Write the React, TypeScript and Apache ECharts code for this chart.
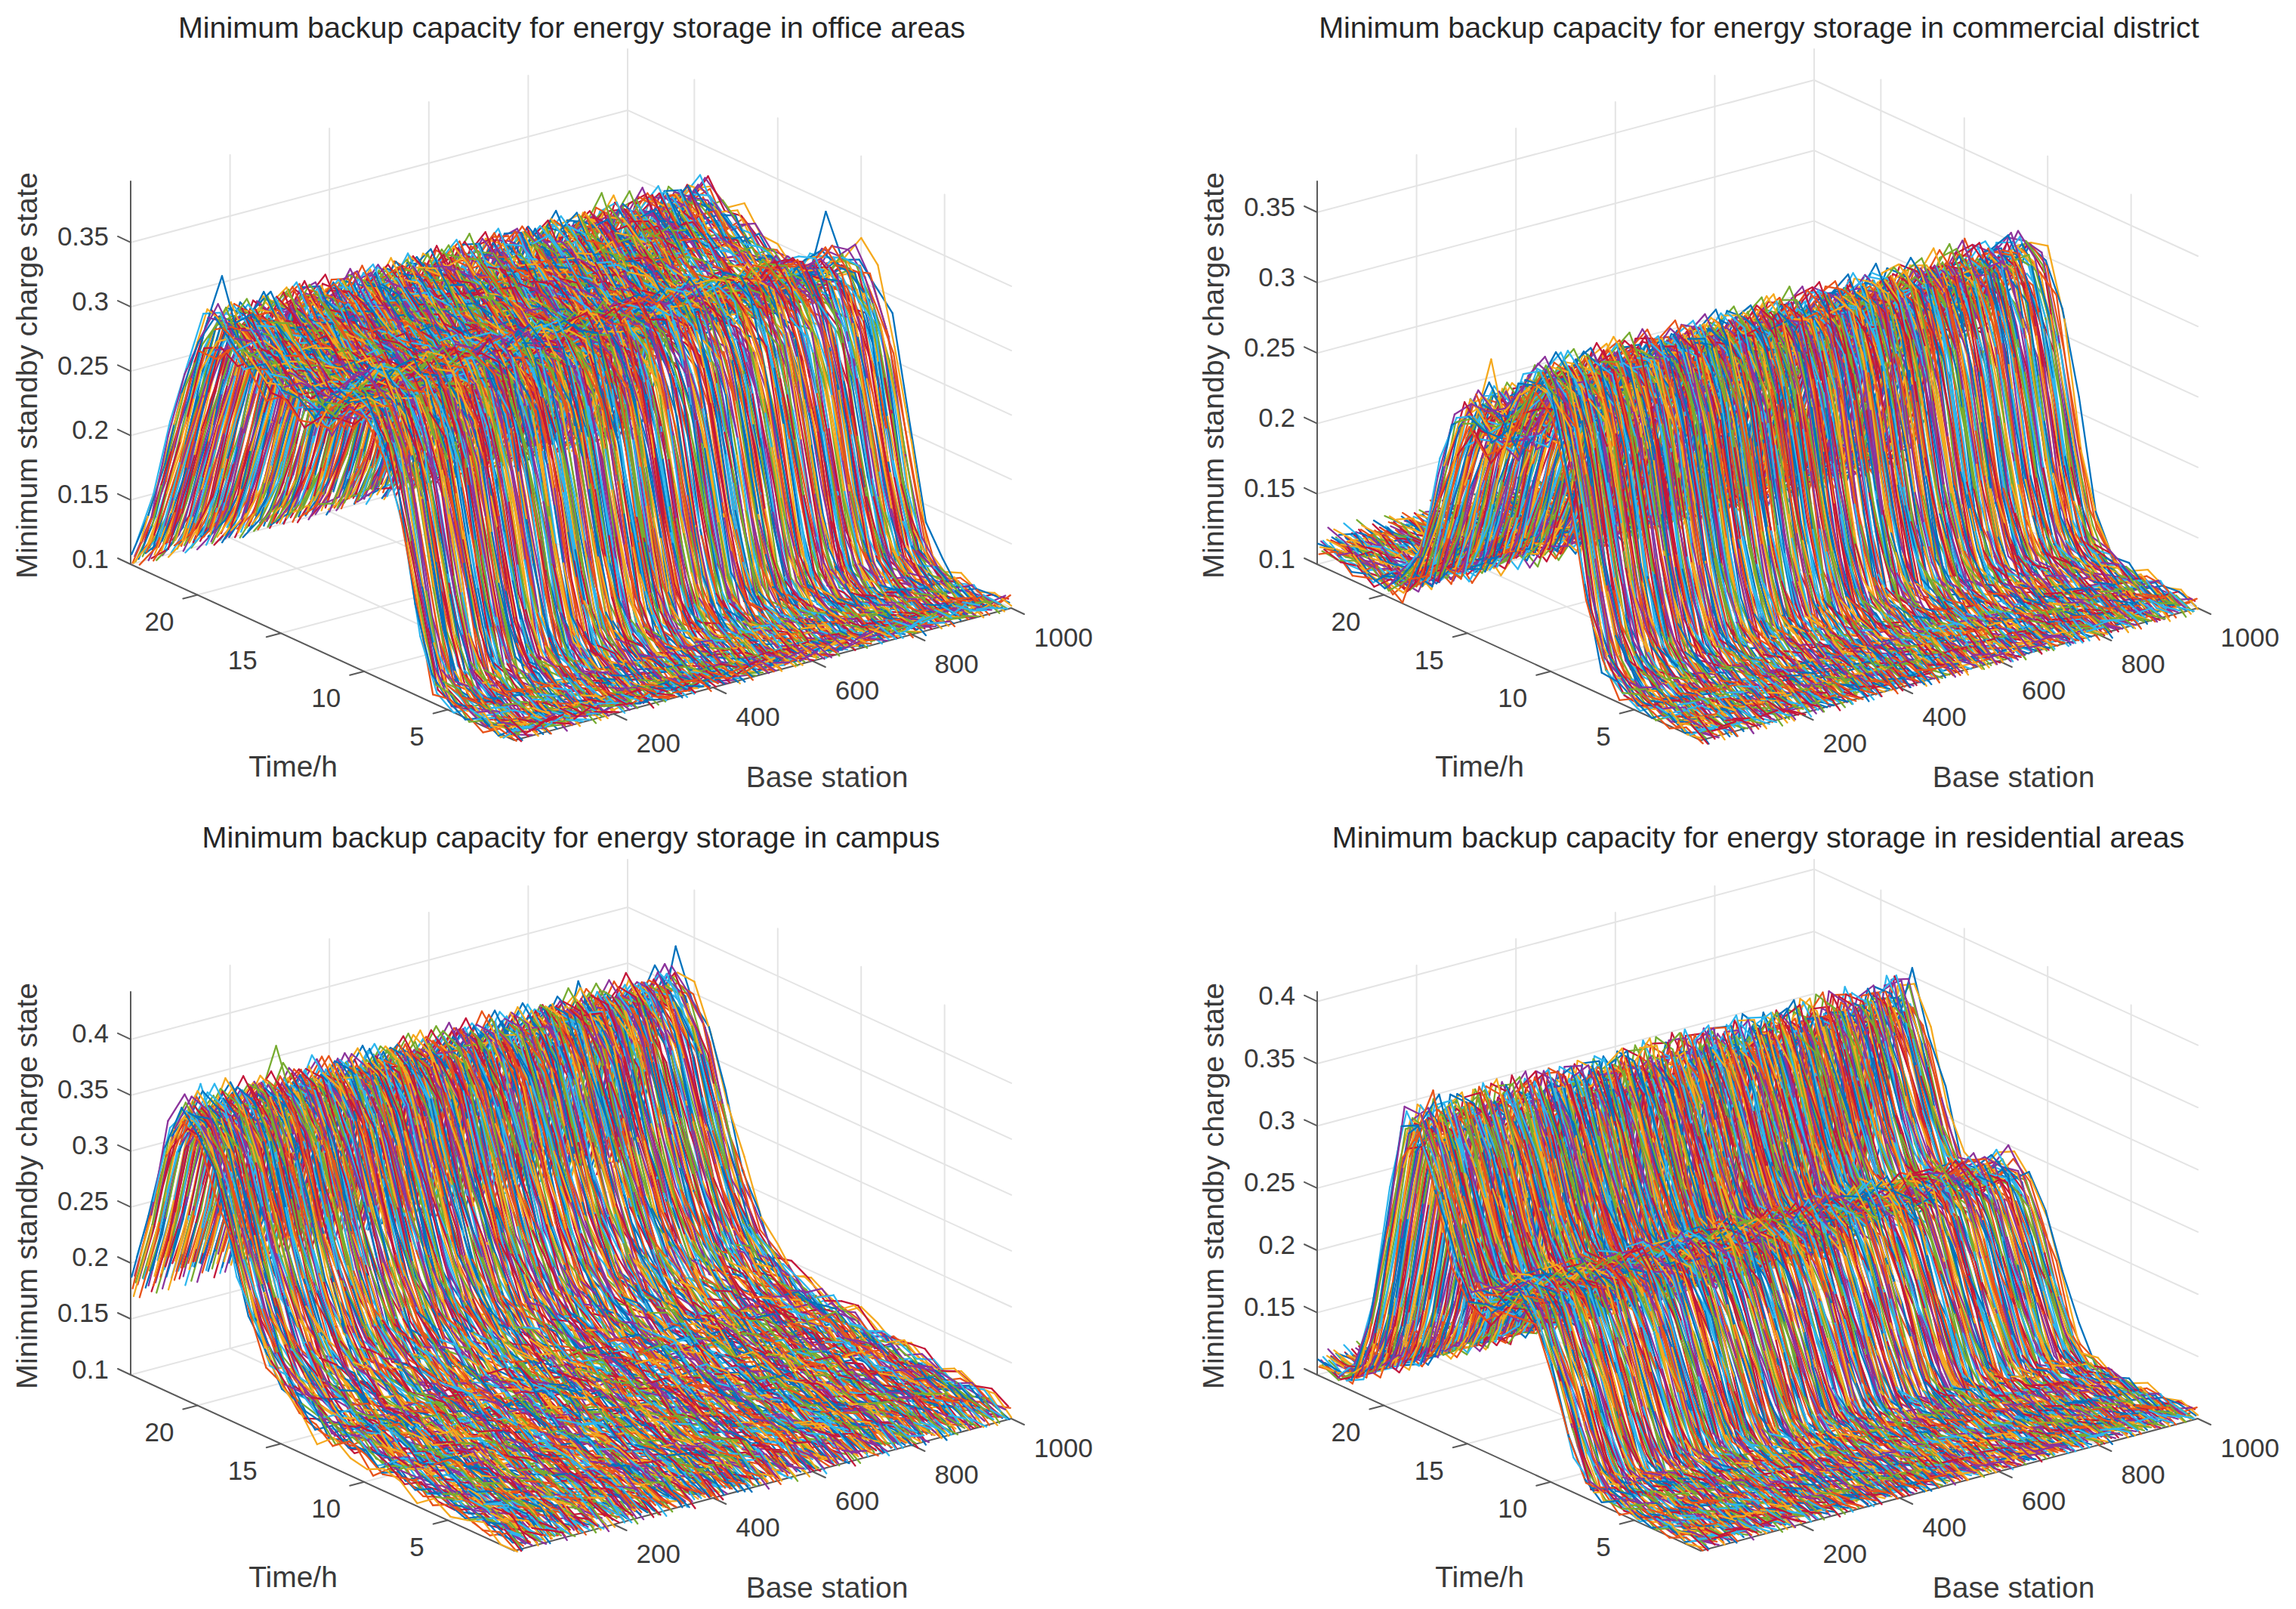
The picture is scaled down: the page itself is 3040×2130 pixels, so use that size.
import React, { useEffect, useRef } from "react";
import * as echarts from "echarts";

// ---------- values ----------
const hours = [1, 2, 3, 4, 5, 6, 7, 8, 9, 10, 11, 12, 13, 14, 15, 16, 17, 18, 19, 20, 21, 22, 23, 24];
const hourTicks = [5, 10, 15, 20];
const stationTicks = [200, 400, 600, 800, 1000];

// Typical state-of-charge profiles (thousandths) per hour, five kinds of station per scene.
const officeProfiles = [
  [105, 100, 100, 102, 105, 115, 175, 250, 295, 310, 305, 295, 285, 285, 290, 295, 300, 305, 315, 300, 250, 195, 140, 105],
  [106, 101, 101, 103, 110, 140, 215, 280, 305, 315, 305, 292, 282, 283, 288, 293, 298, 302, 306, 272, 215, 160, 120, 103],
  [104, 100, 100, 101, 103, 107, 140, 215, 275, 300, 305, 298, 290, 288, 292, 298, 305, 312, 320, 312, 275, 220, 160, 112],
  [103, 100, 99, 101, 104, 112, 165, 235, 278, 292, 290, 282, 272, 272, 277, 282, 288, 292, 298, 285, 238, 180, 130, 102],
  [107, 102, 102, 103, 107, 120, 190, 268, 315, 325, 318, 306, 295, 293, 297, 303, 309, 314, 322, 308, 262, 205, 148, 108],
];
const commercialProfiles = [
  [102, 102, 103, 103, 105, 108, 120, 170, 250, 292, 300, 285, 255, 245, 255, 235, 185, 135, 112, 108, 108, 110, 112, 112],
  [103, 103, 103, 104, 106, 112, 140, 205, 272, 296, 298, 278, 248, 248, 262, 218, 162, 120, 110, 107, 109, 111, 113, 114],
  [102, 102, 102, 103, 104, 106, 112, 145, 225, 282, 302, 292, 265, 245, 248, 250, 205, 155, 120, 110, 107, 108, 110, 112],
  [101, 101, 102, 102, 104, 107, 117, 160, 235, 276, 285, 270, 240, 232, 240, 222, 175, 128, 108, 105, 105, 106, 108, 108],
  [104, 104, 105, 105, 107, 110, 124, 180, 258, 300, 310, 296, 266, 256, 268, 248, 195, 142, 116, 112, 112, 114, 117, 118],
];
const campusProfiles = [
  [105, 110, 112, 112, 113, 115, 118, 120, 122, 124, 126, 128, 132, 140, 150, 170, 205, 255, 310, 345, 358, 322, 245, 185],
  [101, 103, 104, 105, 106, 107, 108, 110, 112, 113, 115, 118, 122, 130, 145, 175, 220, 275, 325, 350, 352, 305, 228, 172],
  [108, 116, 120, 120, 121, 123, 126, 128, 130, 133, 135, 138, 141, 147, 155, 165, 192, 238, 295, 338, 360, 332, 262, 200],
  [103, 107, 109, 109, 110, 112, 114, 116, 118, 120, 122, 124, 128, 135, 147, 168, 200, 248, 300, 332, 345, 312, 240, 178],
  [106, 112, 115, 116, 117, 119, 122, 125, 127, 130, 132, 134, 138, 146, 158, 180, 215, 268, 322, 356, 368, 335, 255, 190],
];
const residentialProfiles = [
  [105, 103, 103, 103, 104, 104, 106, 112, 150, 190, 225, 235, 225, 215, 215, 250, 295, 335, 325, 240, 155, 112, 105, 110],
  [104, 103, 103, 103, 104, 105, 109, 128, 172, 210, 232, 233, 220, 212, 222, 268, 315, 338, 300, 205, 130, 108, 105, 109],
  [105, 104, 103, 103, 103, 104, 105, 106, 132, 172, 215, 236, 230, 218, 212, 235, 280, 328, 338, 270, 180, 120, 106, 110],
  [103, 102, 102, 102, 103, 103, 105, 110, 145, 180, 214, 224, 215, 206, 206, 240, 284, 322, 312, 230, 148, 108, 103, 107],
  [107, 105, 105, 105, 106, 106, 108, 115, 156, 198, 235, 246, 235, 225, 226, 260, 308, 348, 338, 250, 162, 116, 108, 113],
];

// Hour-to-hour jitter rows (thousandths) as seen on the ridge and floor.
const jitterRows = [
  [3, -2, 4, -3, 1, 5, -4, 2, -6, 4, -2, 7, -5, 3, -1, 6, -4, 2, 5, -3, 1, -4, 3, 2],
  [-4, 3, -1, 5, -2, -3, 4, -5, 3, 7, -4, 1, 5, -6, 2, -2, 8, -3, -1, 4, -5, 2, -2, 1],
  [1, 5, -3, -2, 6, -1, 2, 4, -3, -5, 8, -2, 3, 4, -7, 5, -1, -4, 9, -2, 3, 1, -3, -1],
  [-2, -4, 6, 1, -3, 4, -6, 3, 5, -2, -1, 6, -8, 4, 3, -4, 2, 7, -3, 1, -2, 5, 2, -2],
  [5, 1, -2, 4, -5, 2, 3, -4, 1, 6, -7, 3, 2, -3, 8, -5, 1, 3, -4, 6, -3, -1, 4, 3],
  [-1, 3, 2, -5, 4, -2, -3, 6, -2, 2, 5, -8, 4, 1, -3, 7, -6, 2, 2, -5, 4, 2, -4, -3],
  [2, -5, 1, 3, -2, 6, -1, -3, 7, -4, 3, 2, -6, 9, -2, -1, 4, -5, 6, 2, -3, 4, 1, 2],
  [-3, 2, -4, 1, 3, -5, 6, 1, -4, 3, 6, -5, 2, -1, 5, -6, 3, 9, -7, 3, 1, -3, 5, -1],
  [4, -1, 3, -4, 2, 1, -6, 5, 2, -7, 4, 3, -2, 6, -4, 2, 5, -6, 3, -1, 5, -2, -4, 4],
  [-5, 4, -2, 2, -1, 3, 5, -6, 4, 1, -3, 8, -1, -5, 6, 3, -7, 4, -2, 5, -4, 3, 1, -2],
  [2, 1, -4, 5, -3, -2, 3, 2, -5, 8, -2, -4, 7, 1, -3, 4, 2, -8, 6, -3, 2, -1, 3, 3],
  [-2, -3, 5, -1, 4, 2, -5, 7, -1, -3, 5, 1, -4, 3, 2, -7, 9, 1, -5, 4, -1, -3, 2, 5],
  [3, 4, -3, 2, -4, 5, 1, -2, -4, 6, 2, -6, 3, 5, -5, 1, 4, -3, 7, -6, 2, 4, -5, -2],
  [-1, -2, 2, 4, 1, -4, 4, -7, 6, 3, -5, 4, -3, 7, 1, -4, -2, 6, -3, 2, 6, -5, 1, 1],
  [1, 3, -5, -2, 3, 4, -2, 3, 4, -8, 6, 2, -1, -4, 5, 3, -5, 2, 4, -7, 3, 2, -2, -4],
  [-3, 5, 1, -4, -1, 2, 6, -4, -3, 5, 3, -4, 8, -2, -6, 5, 1, 3, -8, 5, -2, -4, 4, 2],
  [4, -4, 2, 3, -5, -1, 3, 5, -7, 2, 4, 6, -5, 1, 4, -3, 6, -9, 3, 4, -4, 1, -1, 3],
];
const jitterGain = [1.3, 1.2, 1.2, 1.05];
const profileOrder = [0, 3, 1, 4, 0, 2, 3, 0, 1, 2, 4, 0, 3, 2, 1, 0, 4, 3, 0, 2, 1, 4, 3];
const jitterOrder = [0, 7, 3, 12, 5, 16, 1, 9, 14, 4, 11, 2, 8, 15, 6, 13, 10, 3, 16, 0, 12, 7, 5, 9, 2, 14, 11, 6, 1];

// Stand-out peaks: [scene, station, hour, value in thousandths]
const peaks = [
  [0, 996, 12, 343], [0, 16, 19, 352], [0, 780, 19, 338], [0, 340, 18, 332],
  [1, 48, 15, 290], [1, 700, 13, 296], [1, 900, 12, 312], [1, 960, 11, 316],
  [2, 192, 21, 392], [2, 996, 21, 386], [2, 40, 21, 376], [2, 800, 21, 378], [2, 600, 20, 372],
  [3, 996, 18, 358], [3, 32, 18, 362], [3, 960, 18, 350], [3, 420, 18, 347], [3, 8, 16, 272],
];

const sceneProfiles = [officeProfiles, commercialProfiles, campusProfiles, residentialProfiles];
const sceneTitles = [
  "Minimum backup capacity for energy storage in office areas",
  "Minimum backup capacity for energy storage in commercial district",
  "Minimum backup capacity for energy storage in campus",
  "Minimum backup capacity for energy storage in residential areas",
];
const sceneValueTicks = [
  [0.1, 0.15, 0.2, 0.25, 0.3, 0.35],
  [0.1, 0.15, 0.2, 0.25, 0.3, 0.35],
  [0.1, 0.15, 0.2, 0.25, 0.3, 0.35, 0.4],
  [0.1, 0.15, 0.2, 0.25, 0.3, 0.35, 0.4],
];
const sceneValueTop = [0.3975, 0.372, 0.4425, 0.4077];
const lineColors = ["#0072BD", "#E8531A", "#F5A91E", "#8C339C", "#77AC30", "#2DB6EE", "#C4173A"];

// ---------- view geometry ----------
const STATION_STEP = 2;
const CHUNK_STATIONS = 250;
const BOX = {
  front: [681, 980],
  left: [173, 747],
  right: [1339, 805],
  height: 507,
};
const OFFSETS = [[0, 0], [1571, 0], [0, 1073], [1571, 1073]];
const TITLE_POS = [[752, 31], [2324, 31], [751, 1103], [2323, 1103]];
const FONT = '"Liberation Sans", Arial, sans-serif';
const TEXT = "#3a3a3a";
const AXIS = "#5a5a5a";
const GRIDC = "#e4e4e4";

function makeProject(scene: number) {
  const [dx, dy] = OFFSETS[scene];
  const k = BOX.height / (sceneValueTop[scene] - 0.1);
  return (station: number, hour: number, value: number) => {
    const a = station / 1000;
    const b = (hour - 1) / 23;
    return [
      BOX.front[0] + dx + a * (BOX.right[0] - BOX.front[0]) + b * (BOX.left[0] - BOX.front[0]),
      BOX.front[1] + dy + a * (BOX.right[1] - BOX.front[1]) + b * (BOX.left[1] - BOX.front[1]) - (value - 0.1) * k,
    ];
  };
}

function seg(points: any[], color: string, width: number) {
  return {
    type: "line",
    data: points,
    showSymbol: false,
    silent: true,
    clip: false,
    connectNulls: false,
    lineStyle: { color, width, cap: "round", join: "round" },
    itemStyle: { color },
    emphasis: { disabled: true },
    animation: false,
  };
}

function buildScene(scene: number) {
  const p = makeProject(scene);
  const top = sceneValueTop[scene];
  const series: any[] = [];
  const texts: any[] = [];
  const [dx, dy] = OFFSETS[scene];
  const txt = (x: number, y: number, text: string, align: string, size: number, rotation = 0) =>
    texts.push({
      type: "text",
      x,
      y,
      rotation,
      z: 50,
      style: { text, fill: TEXT, font: `${size}px ${FONT}`, textAlign: align, textVerticalAlign: "middle" },
    });

  // grid: walls and floor
  for (const v of sceneValueTicks[scene]) {
    series.push(seg([p(0, 24, v), p(1000, 24, v), p(1000, 1, v)], GRIDC, 2));
  }
  for (const s of stationTicks) {
    series.push(seg([p(s, 1, 0.1), p(s, 24, 0.1), p(s, 24, top)], GRIDC, 2));
  }
  for (const h of hourTicks) {
    series.push(seg([p(0, h, 0.1), p(1000, h, 0.1), p(1000, h, top)], GRIDC, 2));
  }
  // axes
  series.push(seg([p(0, 24, top), p(0, 24, 0.1), p(0, 1, 0.1), p(1000, 1, 0.1)], AXIS, 2));
  for (const v of sceneValueTicks[scene]) {
    const a = p(0, 24, v);
    series.push(seg([a, [a[0] - 17, a[1] - 8]], AXIS, 2));
    txt(dx + 144, a[1] - 8, String(v), "right", 35);
  }
  for (const s of stationTicks) {
    const a = p(s, 1, 0.1);
    series.push(seg([a, [a[0] + 17, a[1] + 8]], AXIS, 2));
    txt(a[0] + 30, a[1] + 38, String(s), "left", 35);
  }
  for (const h of hourTicks) {
    const a = p(0, h, 0.1);
    series.push(seg([a, [a[0] - 19, a[1] + 5]], AXIS, 2));
    txt(a[0] - 31, a[1] + 35, String(h), "right", 35);
  }
  txt(dx + 388, dy + 1014, "Time/h", "center", 39);
  txt(dx + 1095, dy + 1028, "Base station", "center", 39);
  texts.push({
    type: "text",
    x: dx + 35,
    y: dy + 497,
    rotation: Math.PI / 2,
    z: 50,
    style: {
      text: "Minimum standby charge state",
      fill: TEXT,
      font: `39.5px ${FONT}`,
      textAlign: "center",
      textVerticalAlign: "middle",
    },
  });

  // station curves: cut into hour bands and painted far to near, so that near parts hide far parts
  const profiles = sceneProfiles[scene];
  const curves: { station: number; values: number[]; colorIndex: number }[] = [];
  let n = 0;
  for (let station = STATION_STEP; station <= 1000; station += STATION_STEP) {
    const profile = profiles[profileOrder[n % profileOrder.length]];
    const jitter = jitterRows[jitterOrder[n % jitterOrder.length]];
    const values = hours.map((h, i) => {
      const spike = peaks.find((q) => q[0] === scene && q[1] === station && q[2] === h);
      return spike ? spike[3] / 1000 : (profile[i] + jitter[i] * jitterGain[scene]) / 1000;
    });
    curves.push({ station, values, colorIndex: n % lineColors.length });
    n++;
  }
  for (let band = hours.length - 2; band >= 0; band--) {
    for (let chunk = 1000 - CHUNK_STATIONS; chunk >= 0; chunk -= CHUNK_STATIONS) {
      for (let c = 0; c < lineColors.length; c++) {
        const colorIndex = (c + band * 3 + chunk / CHUNK_STATIONS * 2) % lineColors.length;
        const data: any[] = [];
        for (const cv of curves) {
          if (cv.colorIndex !== colorIndex || cv.station <= chunk || cv.station > chunk + CHUNK_STATIONS) continue;
          data.push(p(cv.station, hours[band], cv.values[band]));
          data.push(p(cv.station, hours[band + 1], cv.values[band + 1]));
          data.push(["-", "-"]);
        }
        series.push(seg(data, lineColors[colorIndex], 2.3));
      }
    }
  }
  return { series, texts };
}

export default function App() {
  const ref = useRef<HTMLDivElement>(null);
  useEffect(() => {
    document.body.style.margin = "0";
    const chart = echarts.init(ref.current!, undefined, { renderer: "svg" });
    const scenes = [0, 1, 2, 3].map(buildScene);
    chart.setOption({
      animation: false,
      backgroundColor: "#ffffff",
      title: sceneTitles.map((text, i) => ({
        text,
        left: TITLE_POS[i][0],
        top: TITLE_POS[i][1] - 20,
        textAlign: "center",
        textStyle: { fontFamily: FONT, fontWeight: "normal", fontSize: 39.5, color: "#262626" },
      })),
      grid: { left: 0, top: 0, right: 0, bottom: 0, containLabel: false },
      xAxis: { type: "value", min: 0, max: 3040, show: false },
      yAxis: { type: "value", min: 0, max: 2130, inverse: true, show: false },
      series: scenes.flatMap((s) => s.series),
      graphic: { elements: scenes.flatMap((s) => s.texts) },
    });
    return () => chart.dispose();
  }, []);
  return <div ref={ref} style={{ width: 3040, height: 2130 }} />;
}
